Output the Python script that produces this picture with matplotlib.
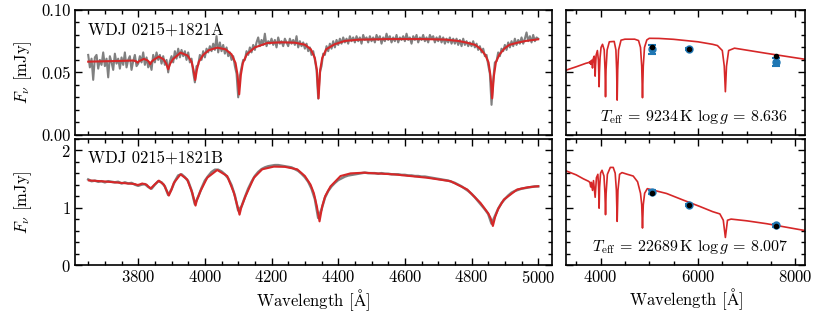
import matplotlib.pyplot as plt
import numpy as np
from matplotlib.ticker import MultipleLocator, FormatStrFormatter

plt.rcParams['font.family'] = 'serif'
plt.rcParams['font.serif'] = ['cmr10', 'DejaVu Serif']
plt.rcParams['mathtext.fontset'] = 'cm'
plt.rcParams['axes.formatter.use_mathtext'] = True
plt.rcParams['font.size'] = 12

# observed spectrum of component A (5 A pixels, 3650-5000)
wave_a = np.arange(3650, 5001, 5)
flux_a = [
    0.064, 0.054, 0.061, 0.044, 0.062, 0.064, 0.053, 0.060, 0.056, 0.066,
    0.055, 0.061, 0.046, 0.063, 0.058, 0.052, 0.065, 0.057, 0.061, 0.053,
    0.062, 0.056, 0.066, 0.054, 0.060, 0.063, 0.052, 0.059, 0.064, 0.055,
    0.057, 0.063, 0.058, 0.066, 0.056, 0.062, 0.054, 0.058, 0.052, 0.064,
    0.058, 0.066, 0.060, 0.064, 0.057, 0.063, 0.056, 0.060, 0.050, 0.059,
    0.063, 0.058, 0.067, 0.061, 0.069, 0.062, 0.068, 0.063, 0.067, 0.060,
    0.066, 0.058, 0.061, 0.050, 0.042, 0.055, 0.056, 0.064, 0.060, 0.067,
    0.062, 0.069, 0.066, 0.071, 0.067, 0.073, 0.068, 0.079, 0.066, 0.074,
    0.067, 0.072, 0.065, 0.070, 0.063, 0.066, 0.060, 0.063, 0.055, 0.049,
    0.030, 0.047, 0.054, 0.060, 0.060, 0.067, 0.064, 0.070, 0.066, 0.072,
    0.068, 0.074, 0.078, 0.071, 0.076, 0.072, 0.081, 0.071, 0.075, 0.073,
    0.077, 0.072, 0.076, 0.070, 0.078, 0.073, 0.075, 0.071, 0.077, 0.074,
    0.071, 0.077, 0.073, 0.076, 0.072, 0.079, 0.070, 0.075, 0.071, 0.074,
    0.069, 0.073, 0.067, 0.070, 0.064, 0.067, 0.060, 0.052, 0.029, 0.050,
    0.055, 0.065, 0.064, 0.071, 0.067, 0.073, 0.069, 0.075, 0.070, 0.076,
    0.072, 0.077, 0.073, 0.078, 0.074, 0.077, 0.073, 0.079, 0.075, 0.078,
    0.074, 0.079, 0.075, 0.078, 0.073, 0.080, 0.076, 0.078, 0.074, 0.079,
    0.075, 0.078, 0.074, 0.080, 0.076, 0.079, 0.073, 0.078, 0.075, 0.081,
    0.076, 0.079, 0.074, 0.078, 0.075, 0.080, 0.074, 0.078, 0.076, 0.079,
    0.075, 0.081, 0.076, 0.078, 0.073, 0.079, 0.076, 0.080, 0.074, 0.078,
    0.076, 0.080, 0.075, 0.078, 0.074, 0.080, 0.077, 0.079, 0.074, 0.078,
    0.075, 0.079, 0.074, 0.078, 0.073, 0.077, 0.074, 0.078, 0.073, 0.077,
    0.073, 0.077, 0.072, 0.076, 0.071, 0.077, 0.072, 0.075, 0.071, 0.074,
    0.071, 0.075, 0.070, 0.073, 0.068, 0.071, 0.066, 0.069, 0.063, 0.064,
    0.056, 0.049, 0.024, 0.044, 0.058, 0.059, 0.066, 0.063, 0.069, 0.067,
    0.072, 0.068, 0.074, 0.070, 0.075, 0.071, 0.077, 0.072, 0.076, 0.073,
    0.078, 0.073, 0.077, 0.082, 0.075, 0.079, 0.074, 0.080, 0.075, 0.078,
    0.077]

# best fit model for A, spectral range
model_wave_a = [3650, 3700, 3750, 3785, 3793, 3798, 3803, 3817, 3828, 3832,
                3836, 3840, 3846, 3862, 3876, 3884, 3890, 3896, 3904, 3927,
                3948, 3960, 3966, 3971, 3976, 3982, 3995, 4012, 4037, 4062,
                4080, 4092, 4098, 4103, 4108, 4114, 4126, 4150, 4187, 4230,
                4270, 4300, 4318, 4330, 4336, 4341, 4346, 4352, 4364, 4389,
                4420, 4460, 4550, 4650, 4720, 4760, 4786, 4811, 4826, 4841,
                4851, 4857, 4862, 4867, 4873, 4883, 4898, 4913, 4938, 4963,
                5000]
model_flux_a = [0.0586, 0.0589, 0.0592, 0.0595, 0.0590, 0.0578, 0.0590, 0.0608, 0.0596, 0.0585,
                0.0565, 0.0585, 0.0600, 0.0626, 0.0605, 0.0570, 0.0525, 0.0570, 0.0605, 0.0658,
                0.0635, 0.0585, 0.0520, 0.0439, 0.0520, 0.0585, 0.0640, 0.0678, 0.0698, 0.0685,
                0.0645, 0.0575, 0.0480, 0.0324, 0.0480, 0.0575, 0.0645, 0.0700, 0.0735, 0.0741,
                0.0738, 0.0722, 0.0685, 0.0615, 0.0520, 0.0292, 0.0520, 0.0615, 0.0685, 0.0725,
                0.0752, 0.0762, 0.0767, 0.0767, 0.0763, 0.0752, 0.0738, 0.0720, 0.0690, 0.0640,
                0.0580, 0.0470, 0.0292, 0.0470, 0.0580, 0.0640, 0.0690, 0.0720, 0.0738, 0.0752,
                0.0765]

# observed spectrum of component B (10 A pixels)
wave_b = np.arange(3650, 5001, 10)
flux_b = [
    1.49, 1.46, 1.47, 1.45, 1.46, 1.44, 1.46, 1.45, 1.44, 1.45,
    1.42, 1.44, 1.42, 1.43, 1.40, 1.38, 1.40, 1.41, 1.36, 1.33,
    1.40, 1.46, 1.44, 1.37, 1.22, 1.32, 1.46, 1.56, 1.58, 1.53,
    1.46, 1.30, 1.06, 1.19, 1.34, 1.47, 1.55, 1.62, 1.66, 1.66,
    1.63, 1.58, 1.51, 1.39, 1.21, 0.95, 1.02, 1.18, 1.33, 1.45,
    1.55, 1.62, 1.67, 1.70, 1.72, 1.73, 1.74, 1.74, 1.73, 1.72,
    1.71, 1.70, 1.67, 1.64, 1.59, 1.53, 1.45, 1.33, 1.15, 0.82,
    0.97, 1.17, 1.29, 1.37, 1.43, 1.48, 1.51, 1.54, 1.56, 1.57,
    1.58, 1.59, 1.60, 1.61, 1.60, 1.60, 1.60, 1.59, 1.60, 1.59,
    1.59, 1.58, 1.58, 1.58, 1.57, 1.57, 1.56, 1.56, 1.55, 1.55,
    1.54, 1.54, 1.53, 1.52, 1.51, 1.50, 1.49, 1.48, 1.47, 1.45,
    1.43, 1.40, 1.37, 1.33, 1.29, 1.24, 1.18, 1.11, 1.04, 0.97,
    0.89, 0.72, 0.85, 0.98, 1.08, 1.15, 1.21, 1.26, 1.29, 1.31,
    1.33, 1.34, 1.35, 1.36, 1.37, 1.37]

model_wave_b = [3652, 3700, 3750, 3790, 3797, 3803, 3812, 3825, 3837, 3849,
                3862, 3877, 3885, 3892, 3899, 3907, 3927, 3947, 3962, 3968,
                3972, 3976, 3987, 4007, 4037, 4067, 4087, 4098, 4104, 4110,
                4122, 4147, 4172, 4207, 4240, 4277, 4300, 4317, 4327, 4336,
                4344, 4352, 4361, 4377, 4407, 4437, 4477, 4567, 4667, 4737,
                4787, 4827, 4850, 4857, 4864, 4871, 4880, 4897, 4937, 4970,
                5000]
model_flux_b = [1.474, 1.455, 1.43, 1.41, 1.395, 1.40, 1.42, 1.40, 1.33, 1.40,
                1.47, 1.40, 1.30, 1.21, 1.30, 1.43, 1.58, 1.49, 1.26, 1.13,
                1.035, 1.13, 1.29, 1.52, 1.655, 1.55, 1.26, 1.02, 0.877, 1.02,
                1.20, 1.52, 1.667, 1.714, 1.71, 1.667, 1.55, 1.40, 1.25, 1.02,
                0.76, 1.02, 1.20, 1.37, 1.55, 1.596, 1.608, 1.579, 1.52, 1.46,
                1.316, 1.08, 0.90, 0.82, 0.68, 0.84, 0.98, 1.14, 1.316, 1.355,
                1.372]

# model SEDs, wide range
sed_wave_a = [3300, 3500, 3650, 3700, 3750, 3770, 3780, 3790, 3798, 3806,
              3822, 3830, 3835, 3840, 3852, 3870, 3882, 3889, 3896, 3910,
              3935, 3955, 3963, 3970, 3977, 3990, 4010, 4040, 4075, 4092,
              4102, 4112, 4135, 4180, 4280, 4315, 4330, 4341, 4352, 4370,
              4420, 4500, 4700, 4780, 4820, 4845, 4861, 4877, 4902, 4950,
              5000, 5200, 5500, 6000, 6300, 6400, 6500, 6540, 6563, 6586,
              6630, 6750, 7400, 8200]
sed_flux_a = [0.0519, 0.0545, 0.0566, 0.0573, 0.0578, 0.0582, 0.0575, 0.0588, 0.0565, 0.0590,
              0.0598, 0.0560, 0.0535, 0.0570, 0.0612, 0.0630, 0.0550, 0.0470, 0.0550, 0.0640,
              0.0675, 0.0600, 0.0500, 0.0385, 0.0500, 0.0620, 0.0700, 0.0725, 0.0680, 0.0520,
              0.0305, 0.0520, 0.0680, 0.0745, 0.0748, 0.0680, 0.0520, 0.0278, 0.0520, 0.0680,
              0.0758, 0.0766, 0.0766, 0.0755, 0.0700, 0.0550, 0.0297, 0.0550, 0.0700, 0.0760,
              0.0773, 0.0772, 0.0765, 0.0745, 0.0725, 0.0715, 0.0675, 0.0550, 0.0345, 0.0550,
              0.0675, 0.0694, 0.0653, 0.0605]

sed_wave_b = [3300, 3500, 3650, 3750, 3780, 3798, 3810, 3835, 3855, 3889,
              3915, 3945, 3960, 3970, 3980, 4000, 4030, 4070, 4090, 4102,
              4114, 4140, 4200, 4260, 4300, 4325, 4341, 4357, 4390, 4440,
              4550, 4670, 4760, 4820, 4845, 4861, 4877, 4905, 4960, 5100,
              5355, 5700, 6038, 6300, 6450, 6520, 6563, 6606, 6680, 7000,
              7407, 8200]
sed_flux_b = [1.637, 1.57, 1.50, 1.46, 1.44, 1.36, 1.44, 1.30, 1.47, 1.18,
              1.52, 1.58, 1.35, 0.99, 1.35, 1.60, 1.65, 1.55, 1.25, 0.877,
              1.25, 1.58, 1.70, 1.70, 1.60, 1.30, 0.76, 1.30, 1.58, 1.61,
              1.58, 1.55, 1.45, 1.25, 1.05, 0.644, 1.05, 1.25, 1.33, 1.30,
              1.246, 1.13, 1.02, 0.93, 0.89, 0.78, 0.48, 0.78, 0.80, 0.77,
              0.72, 0.60]

# photometry
phot_wave = [5050, 5820, 7600]
synth_a = [0.0706, 0.0688, 0.0632]
obs_a = [0.0685, 0.0690, 0.0586]
err_a = [0.0034, 0.0008, 0.0033]
synth_b = [1.26, 1.05, 0.684]
obs_b = [1.27, 1.05, 0.69]
err_b = [0.03, 0.02, 0.02]

names = ['WDJ 0215+1821A', 'WDJ 0215+1821B']
params = [r'$T_{\rm eff}$ = 9234$\,$K $\log g$ = 8.636',
          r'$T_{\rm eff}$ = 22689$\,$K $\log g$ = 8.007']

red = '#d62728'
blue = '#1f77b4'

fig = plt.figure(figsize=(8.3, 3.12), dpi=100)
ax1 = fig.add_axes([0.090, 0.568, 0.5747, 0.400])
ax2 = fig.add_axes([0.6825, 0.568, 0.2875, 0.400])
ax3 = fig.add_axes([0.090, 0.1506, 0.5747, 0.4048])
ax4 = fig.add_axes([0.6825, 0.1506, 0.2875, 0.4048])

ax1.plot(wave_a, flux_a, color='grey', lw=1.5)
ax1.plot(model_wave_a, model_flux_a, color=red, lw=1.5)
ax3.plot(wave_b, flux_b, color='grey', lw=1.8)
ax3.plot(model_wave_b, model_flux_b, color=red, lw=1.5)

ax2.plot(sed_wave_a, sed_flux_a, color=red, lw=1.2)
ax2.errorbar(phot_wave, obs_a, yerr=err_a, fmt='o', color=blue, ms=5,
             elinewidth=2, capsize=3, capthick=1.5, zorder=3)
ax2.plot(phot_wave, synth_a, 'o', color='k', ms=3, zorder=4)
ax4.plot(sed_wave_b, sed_flux_b, color=red, lw=1.2)
ax4.errorbar(phot_wave, obs_b, yerr=err_b, fmt='o', color=blue, ms=5,
             elinewidth=2, capsize=3, capthick=1.5, zorder=3)
ax4.plot(phot_wave, synth_b, 'o', color='k', ms=3, zorder=4)

for ax in (ax1, ax3):
    ax.set_xlim(3609.5, 5040.5)
    ax.xaxis.set_major_locator(MultipleLocator(200))
    ax.xaxis.set_minor_locator(MultipleLocator(50))
    ax.set_ylabel(r'$F_\nu$ [mJy]')
    ax.yaxis.set_label_coords(-0.086, 0.5)
for ax in (ax2, ax4):
    ax.set_xlim(3300, 8200)
    ax.xaxis.set_major_locator(MultipleLocator(2000))
    ax.xaxis.set_minor_locator(MultipleLocator(500))
    ax.tick_params(labelleft=False)
for ax in (ax1, ax2):
    ax.set_ylim(0, 0.1)
    ax.yaxis.set_major_locator(MultipleLocator(0.05))
    ax.yaxis.set_minor_locator(MultipleLocator(0.01))
    ax.yaxis.set_major_formatter(FormatStrFormatter('%.2f'))
    ax.tick_params(labelbottom=False)
for ax in (ax3, ax4):
    ax.set_ylim(0, 2.2)
    ax.yaxis.set_major_locator(MultipleLocator(1))
    ax.yaxis.set_minor_locator(MultipleLocator(0.2))
    ax.set_xlabel(r'Wavelength [$\mathrm{\AA}$]', labelpad=1)

for ax in (ax1, ax2, ax3, ax4):
    ax.tick_params(which='both', direction='in', top=True, right=True, width=1, pad=3)
    ax.tick_params(which='major', length=5)
    ax.tick_params(which='minor', length=3)
    for s in ax.spines.values():
        s.set_linewidth(1.2)

ax1.text(0.028, 0.905, names[0], transform=ax1.transAxes, va='top', ha='left')
ax3.text(0.028, 0.905, names[1], transform=ax3.transAxes, va='top', ha='left')
ax2.text(0.93, 0.07, params[0], transform=ax2.transAxes, ha='right', va='bottom', fontsize=11.5)
ax4.text(0.93, 0.07, params[1], transform=ax4.transAxes, ha='right', va='bottom', fontsize=11.5)

plt.savefig('out.png', dpi=100)
